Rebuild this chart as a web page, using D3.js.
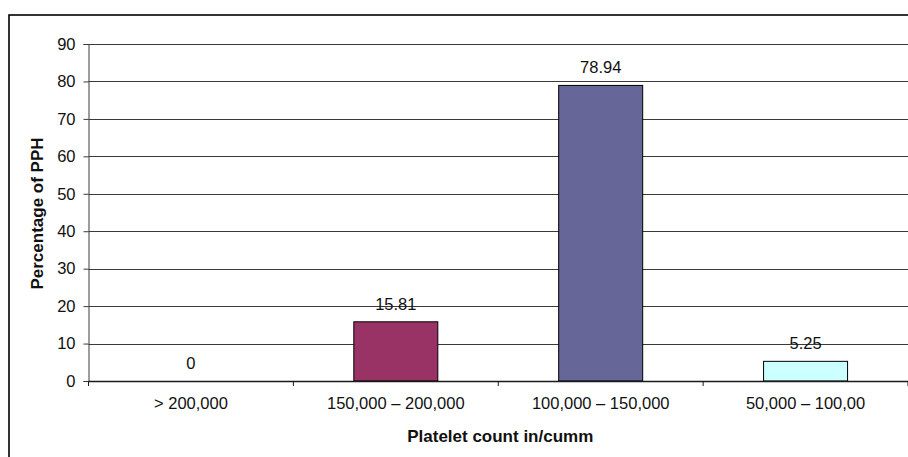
<!DOCTYPE html>
<html><head><meta charset="utf-8">
<script src="https://cdn.jsdelivr.net/npm/d3@7"></script>
<style>
html,body{margin:0;padding:0;background:#fff;}
svg{display:block;font-family:"Liberation Sans",Arial,sans-serif;}
</style></head>
<body>
<svg id="chart" width="908" height="457"></svg>
<script>
const categories = ["> 200,000", "150,000 – 200,000", "100,000 – 150,000", "50,000 – 100,00"];
const values = [0, 15.81, 78.94, 5.25];
const valueLabels = ["0", "15.81", "78.94", "5.25"];
const barColors = ["#993366", "#993366", "#666699", "#CCFFFF"];
const yTicks = [0, 10, 20, 30, 40, 50, 60, 70, 80, 90];
const yTitle = "Percentage of PPH";
const xTitle = "Platelet count in/cumm";

const svg = d3.select("#chart");
const mLeft = 88.5, mRight = 908, mTop = 44, mBottom = 381;

// outer frame
svg.append("rect").attr("x", 9).attr("y", 15).attr("width", 920).attr("height", 460)
  .attr("fill", "none").attr("stroke", "#000").attr("stroke-width", 1.6);

const x = d3.scaleBand().domain(categories).range([mLeft, mRight]).padding(0);
const y = d3.scaleLinear().domain([0, 90]).range([mBottom, mTop]);

// gridlines
svg.append("g").selectAll("line").data(yTicks.filter(d => d > 0)).join("line")
  .attr("x1", mLeft).attr("x2", mRight)
  .attr("y1", d => Math.round(y(d)) + 0.5).attr("y2", d => Math.round(y(d)) + 0.5)
  .attr("stroke", "#3a3a3a").attr("stroke-width", 1);

// bars
const bw = x.bandwidth() * 0.41;
svg.append("g").selectAll("rect").data(values).join("rect")
  .attr("x", (d, i) => x(categories[i]) + x.bandwidth() / 2 - bw / 2)
  .attr("y", d => y(d))
  .attr("width", bw)
  .attr("height", d => y(0) - y(d))
  .attr("fill", (d, i) => barColors[i])
  .attr("stroke", d => d > 0 ? "#000" : "none").attr("stroke-width", 1);

// value labels
svg.append("g").selectAll("text").data(values).join("text")
  .attr("x", (d, i) => x(categories[i]) + x.bandwidth() / 2)
  .attr("y", d => y(d) - 12)
  .attr("text-anchor", "middle").attr("font-size", 16.5).attr("fill", "#111")
  .text((d, i) => valueLabels[i]);

// y axis
const yAxis = d3.axisLeft(y).tickValues(yTicks).tickSize(5).tickPadding(8);
const gy = svg.append("g").attr("transform", `translate(${mLeft},0)`).call(yAxis);
gy.select(".domain").attr("stroke", "#3a3a3a");
gy.selectAll(".tick line").attr("stroke", "#3a3a3a");
gy.selectAll("text").attr("font-size", 16.5).attr("fill", "#111").attr("font-family", "Liberation Sans, Arial, sans-serif");

// x axis
const xAxis = d3.axisBottom(x).tickSize(0).tickPadding(16);
const gx = svg.append("g").attr("transform", `translate(0,${mBottom})`).call(xAxis);
gx.select(".domain").attr("stroke", "#1a1a1a").attr("stroke-width", 1.5);
gx.selectAll("text").attr("font-size", 16.5).attr("fill", "#111").attr("font-family", "Liberation Sans, Arial, sans-serif");
// category separator ticks
svg.append("g").selectAll("line").data(categories.concat(["end"])).join("line")
  .attr("x1", (d, i) => i < categories.length ? x(d) : mRight)
  .attr("x2", (d, i) => i < categories.length ? x(d) : mRight)
  .attr("y1", mBottom).attr("y2", mBottom + 5)
  .attr("stroke", "#1a1a1a");

// titles
svg.append("text").attr("x", (mLeft + mRight) / 2 + 2).attr("y", 442)
  .attr("text-anchor", "middle").attr("font-size", 17).attr("font-weight", "bold").attr("fill", "#111")
  .text(xTitle);
svg.append("text").attr("transform", `translate(43,${(mTop + mBottom) / 2 + 1}) rotate(-90)`)
  .attr("text-anchor", "middle").attr("font-size", 17).attr("font-weight", "bold").attr("fill", "#111")
  .text(yTitle);
</script>
</body></html>
